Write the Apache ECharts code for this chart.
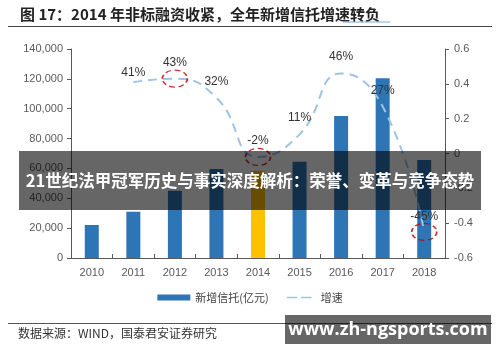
<!DOCTYPE html>
<html><head><meta charset="utf-8">
<script src="https://cdn.jsdelivr.net/npm/echarts@6/dist/echarts.min.js"></script>
<style>html,body{margin:0;padding:0;background:#fff}#c{width:500px;height:362px}</style>
</head><body><div id="c"></div>
<script>
const years = ['2010','2011','2012','2013','2014','2015','2016','2017','2018'];
const newTrust = [22100, 31000, 45100, 59600, 58500, 64500, 95100, 120400, 65600];
const growth = [null, 0.41, 0.43, 0.32, -0.02, 0.11, 0.46, 0.27, -0.45];
const highlighted = [null, null, 0.43, null, -0.02, null, null, null, -0.45];
const leftTicks = [0, 20000, 40000, 60000, 80000, 100000, 120000, 140000];
const rightTicks = [-0.6, -0.4, -0.2, 0, 0.2, 0.4, 0.6];
const labelDist = [0, 3, 9, 10, 10, 10, 10, 9, 9];

const chart = echarts.init(document.getElementById('c'));
const axisFont = {fontFamily:'Liberation Sans', fontSize:11, color:'#595959'};
chart.setOption({
  animation:false,
  backgroundColor:'#fff',
  grid:{left:71, right:55, top:49, bottom:104},
  legend:{
    bottom:54, left:'center', itemGap:18,
    textStyle:{fontFamily:'Noto Sans CJK SC', fontSize:11, color:'#404040'},
    data:[
      {name:'新增信托(亿元)', icon:'rect', itemStyle:{color:'#2E75B6'}},
      {name:'增速', icon:'path://M0,-2L0.01,-2L0,-2Z M0,6L0.01,6L0,6Z M0,1H14V3H0Z M19,1H33V3H19Z', itemStyle:{color:'#9DC3E6'}}
    ],
    itemWidth:33, itemHeight:6
  },
  xAxis:{
    type:'category', data:years,
    axisLine:{lineStyle:{color:'#595959'}},
    axisTick:{show:true, inside:true, length:4, lineStyle:{color:'#595959'}},
    axisLabel:Object.assign({margin:9}, axisFont)
  },
  yAxis:[
    {type:'value', min:leftTicks[0], max:leftTicks[leftTicks.length-1], interval:leftTicks[1]-leftTicks[0],
     axisLine:{show:true, lineStyle:{color:'#595959'}},
     axisTick:{show:true, length:4, lineStyle:{color:'#595959'}},
     splitLine:{show:false},
     axisLabel:Object.assign({margin:8}, axisFont)},
    {type:'value', min:rightTicks[0], max:rightTicks[rightTicks.length-1], interval:0.2,
     axisLine:{show:true, lineStyle:{color:'#595959'}},
     axisTick:{show:true, length:4, lineStyle:{color:'#595959'}},
     splitLine:{show:false},
     axisLabel:Object.assign({margin:9, formatter:v=>String(+v.toFixed(1))}, axisFont)}
  ],
  series:[
    {name:'新增信托(亿元)', type:'bar', barWidth:14, yAxisIndex:0,
     itemStyle:{color:'#2E75B6'},
     data:newTrust.map((v,i)=> years[i]==='2014' ? {value:v, itemStyle:{color:'#FFC000'}} : v)},
    {name:'增速', type:'line', yAxisIndex:1, smooth:0.5, showSymbol:true, symbol:'circle', symbolSize:1,
     lineStyle:{color:'#9DC3E6', width:2, type:[9,6]},
     itemStyle:{color:'rgba(157,195,230,0)'},
     label:{show:true},
     data:growth.map((v,i)=> v===null ? null : {value:v,
       label:{show:true, position:'top', distance:labelDist[i], formatter:Math.round(v*100)+'%',
        fontFamily:'Liberation Sans', fontSize:12, color:'#333'}})},
    {name:'hl', type:'scatter', yAxisIndex:1, symbol:'circle', symbolSize:[25,17],
     itemStyle:{color:'rgba(0,0,0,0)', borderColor:'#C00000', borderWidth:1.5, borderType:[5,3]},
     silent:true, z:5, data:highlighted}
  ],
  graphic:[
    {type:'text', left:20, top:7, style:{text:'图 17：2014 年非标融资收紧，全年新增信托增速转负', font:'bold 15px "Noto Sans CJK SC"', fill:'#222'}},
    {type:'line', shape:{x1:343, y1:22, x2:390, y2:22}, style:{stroke:'#7FA7D6', lineWidth:1}},
    {type:'line', shape:{x1:8, y1:26.5, x2:492, y2:26.5}, style:{stroke:'#444', lineWidth:1.2}},
    {type:'line', shape:{x1:8, y1:323.5, x2:492, y2:323.5}, style:{stroke:'#555', lineWidth:1.2}},
    {type:'text', left:18, top:327, style:{text:'数据来源：WIND，国泰君安证券研究', font:'12px "Noto Sans CJK SC"', fill:'#333'}},
    {type:'rect', shape:{x:19, y:151, width:462, height:59}, style:{fill:'rgba(0,0,0,0.6)'}, z:100},
    {type:'text', x:250, y:181, style:{text:'21世纪法甲冠军历史与事实深度解析：荣誉、变革与竞争态势', font:'bold 16.5px "Noto Sans CJK SC"', fill:'#fff', align:'center', verticalAlign:'middle'}, z:101},
    {type:'rect', shape:{x:285, y:315, width:206, height:29}, style:{fill:'rgba(0,0,0,0.6)'}, z:100},
    {type:'text', x:388, y:329.5, style:{text:'www.zh-ngsports.com', font:'bold 18px "Open Sans"', fill:'#fff', align:'center', verticalAlign:'middle'}, z:101}
  ]
});
</script></body></html>
